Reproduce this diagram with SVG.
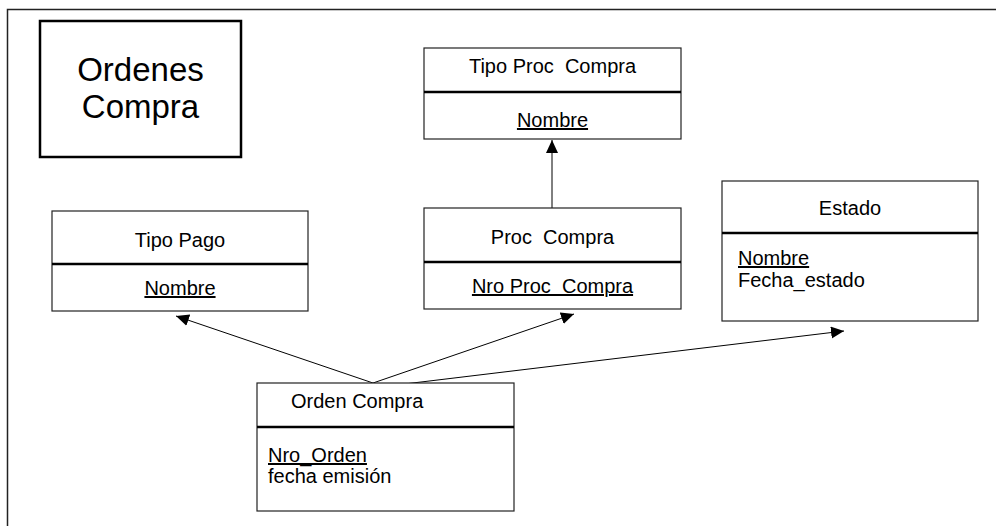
<svg xmlns="http://www.w3.org/2000/svg" width="996" height="526" viewBox="0 0 996 526">
  <style>
    text { font-family: "Liberation Sans", Arial, sans-serif; fill: #000; }
    .lbl { font-size: 20px; }
    .mid { text-anchor: middle; }
    .key { text-decoration: underline; }
    .box { fill: #fff; stroke: #222; stroke-width: 1.2; }
    .div { stroke: #000; stroke-width: 2.5; }
    .conn { stroke: #000; stroke-width: 1; fill: none; marker-end: url(#arrow); }
  </style>
  <defs>
    <marker id="arrow" markerUnits="userSpaceOnUse" markerWidth="14" markerHeight="14" refX="13" refY="6" orient="auto">
      <path d="M0,0 L13,6 L0,12 Z" fill="#000"/>
    </marker>
  </defs>

  <rect width="996" height="526" fill="#fff"/>
  <!-- frame -->
  <path d="M7.5,526 V9.5 H996" fill="none" stroke="#222" stroke-width="1.5"/>

  <!-- title -->
  <g id="title">
    <rect x="40" y="21" width="201" height="136" fill="#fff" stroke="#000" stroke-width="2.5"/>
    <text x="140.5" y="81" class="mid" font-size="33">Ordenes</text>
    <text x="140.5" y="118" class="mid" font-size="33">Compra</text>
  </g>

  <!-- connectors -->
  <g id="connectors">
    <line class="conn" x1="552" y1="208" x2="552" y2="140"/>
    <line class="conn" x1="373" y1="383" x2="176" y2="316"/>
    <line class="conn" x1="373" y1="383" x2="574" y2="314"/>
    <line class="conn" x1="363" y1="389" x2="844" y2="331"/>
  </g>

  <g id="tipo-proc-compra">
    <rect class="box" x="424" y="48" width="257" height="91"/>
    <line class="div" x1="424" y1="92" x2="681" y2="92"/>
    <text x="552.5" y="73" class="lbl mid" xml:space="preserve">Tipo Proc  Compra</text>
    <text x="552.5" y="127" class="lbl mid key">Nombre</text>
  </g>

  <g id="tipo-pago">
    <rect class="box" x="52" y="211" width="256" height="100"/>
    <line class="div" x1="52" y1="264" x2="308" y2="264"/>
    <text x="180" y="247" class="lbl mid">Tipo Pago</text>
    <text x="180" y="295" class="lbl mid key">Nombre</text>
  </g>

  <g id="proc-compra">
    <rect class="box" x="424" y="208" width="257" height="101"/>
    <line class="div" x1="424" y1="262" x2="681" y2="262"/>
    <text x="552.5" y="244" class="lbl mid" xml:space="preserve">Proc  Compra</text>
    <text x="552.5" y="293" class="lbl mid key" xml:space="preserve">Nro Proc  Compra</text>
  </g>

  <g id="estado">
    <rect class="box" x="722" y="181" width="256" height="140"/>
    <line class="div" x1="722" y1="233" x2="978" y2="233"/>
    <text x="850" y="215" class="lbl mid">Estado</text>
    <text x="738" y="265" class="lbl key">Nombre</text>
    <text x="738" y="287" class="lbl">Fecha_estado</text>
  </g>

  <g id="orden-compra">
    <rect class="box" x="257" y="383" width="257" height="128"/>
    <line class="div" x1="257" y1="427" x2="514" y2="427"/>
    <text x="291" y="408" class="lbl">Orden Compra</text>
    <text x="268" y="462" class="lbl key">Nro_Orden</text>
    <text x="268" y="483" class="lbl">fecha emisión</text>
  </g>
</svg>
